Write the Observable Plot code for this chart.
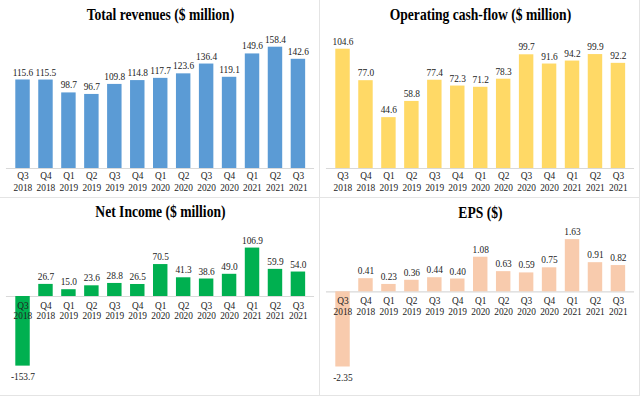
<!DOCTYPE html>
<html><head><meta charset="utf-8">
<script src="https://cdn.jsdelivr.net/npm/d3@7"></script>
<script src="https://cdn.jsdelivr.net/npm/@observablehq/plot@0.6"></script>
<style>
body{margin:0;background:#fff;}
#grid{position:relative;width:640px;height:397px;overflow:hidden;}
.panel{position:absolute;overflow:hidden;}
.panel svg{position:absolute;left:0;top:0;}
.line{position:absolute;background:#e4e4e4;}
</style></head><body><div id="grid"></div>
<script>
const quarters = ["Q3","Q4","Q1","Q2","Q3","Q4","Q1","Q2","Q3","Q4","Q1","Q2","Q3"];
const years = ["2018","2018","2019","2019","2019","2019","2020","2020","2020","2020","2021","2021","2021"];
const revenue = [115.6,115.5,98.7,96.7,109.8,114.8,117.7,123.6,136.4,119.1,149.6,158.4,142.6];
const cashFlow = [104.6,77.0,44.6,58.8,77.4,72.3,71.2,78.3,99.7,91.6,94.2,99.9,92.2];
const netIncome = [-153.7,26.7,15.0,23.6,28.8,26.5,70.5,41.3,38.6,49.0,106.9,59.9,54.0];
const eps = [-2.35,0.41,0.23,0.36,0.44,0.40,1.08,0.63,0.59,0.75,1.63,0.91,0.82];

const K = 0.85;           // horizontal condensing of the reference image
const PW = 320;           // panel width (px)
const VW = PW / K;        // virtual drawing width
const labels = quarters.map((q, i) => `${q}\n${years[i]}`);
const font = "Liberation Serif, Times New Roman, serif";

function panel({title, values, color, decimals, domain, left, top, h, mt, mb, titleDy, tickDy, tickLH}) {
  const data = values.map((v, i) => ({label: labels[i], value: v}));
  const fmt = v => (v < 0 ? "-" : "") + Math.abs(v).toFixed(decimals);
  const svg = Plot.plot({
    width: VW, height: h,
    marginLeft: 0, marginRight: 0, marginTop: mt, marginBottom: mb,
    x: {domain: labels, paddingInner: 0.369, paddingOuter: 0.543, axis: null},
    y: {domain, axis: null},
    style: {background: "transparent", color: "#222"},
    marks: [
      Plot.ruleY([0], {stroke: "#d9d9d9", strokeWidth: 1.2, insetLeft: 7, insetRight: 7}),
      Plot.barY(data, {x: "label", y: "value", fill: color}),
      Plot.text(data.filter(d => d.value >= 0), {x: "label", y: "value", text: d => fmt(d.value), lineAnchor: "middle", dy: -8, fontSize: 11, fontFamily: font, fill: "#222"}),
      Plot.text(data.filter(d => d.value < 0), {x: "label", y: "value", text: d => fmt(d.value), lineAnchor: "middle", dy: 10, fontSize: 11, fontFamily: font, fill: "#222"}),
      Plot.text(data, {x: "label", y: () => 0, text: "label", lineAnchor: "top", dy: tickDy, lineHeight: tickLH, fontSize: 11, fontFamily: font, fill: "#222"}),
      Plot.text([title], {frameAnchor: "top", lineAnchor: "middle", dy: titleDy, text: d => d, fontSize: 16, fontWeight: "bold", fontFamily: font, fill: "#000"})
    ]
  });
  svg.setAttribute("preserveAspectRatio", "none");
  svg.style.width = PW + "px";
  svg.style.height = h + "px";
  svg.style.maxWidth = "none";
  svg.style.fontFamily = font;
  const div = document.createElement("div");
  div.className = "panel";
  Object.assign(div.style, {left: left + "px", top: top + "px", width: PW + "px", height: h + "px"});
  div.appendChild(svg);
  document.getElementById("grid").appendChild(div);
}

panel({title: "Total revenues ($ million)", values: revenue, color: "#5B9BD5", decimals: 1,
  domain: [0, 180.2], left: 0, top: 0, h: 198, mt: 30, mb: 30, titleDy: -16, tickDy: 1.5, tickLH: 1.14});
panel({title: "Operating cash-flow ($ million)", values: cashFlow, color: "#FFD966", decimals: 1,
  domain: [0, 121], left: 320, top: 0, h: 198, mt: 30, mb: 30, titleDy: -16, tickDy: 1.5, tickLH: 1.14});
panel({title: "Net Income ($ million)", values: netIncome, color: "#00B050", decimals: 1,
  domain: [-176.6, 150.1], left: 0, top: 198, h: 198, mt: 30, mb: 20, titleDy: -17, tickDy: 5, tickLH: 0.95});
panel({title: "EPS ($)", values: eps, color: "#F8CBAD", decimals: 2,
  domain: [-2.647, 1.978], left: 320, top: 198, h: 198, mt: 30, mb: 20, titleDy: -16, tickDy: 5, tickLH: 0.95});

// panel borders
const grid = document.getElementById("grid");
[[319, 0, 1, 396], [639, 0, 1, 396], [0, 197, 640, 1], [0, 395, 640, 1]].forEach(([l, t, w, h]) => {
  const d = document.createElement("div");
  d.className = "line";
  Object.assign(d.style, {left: l + "px", top: t + "px", width: w + "px", height: h + "px"});
  grid.appendChild(d);
});
</script>
</body></html>
